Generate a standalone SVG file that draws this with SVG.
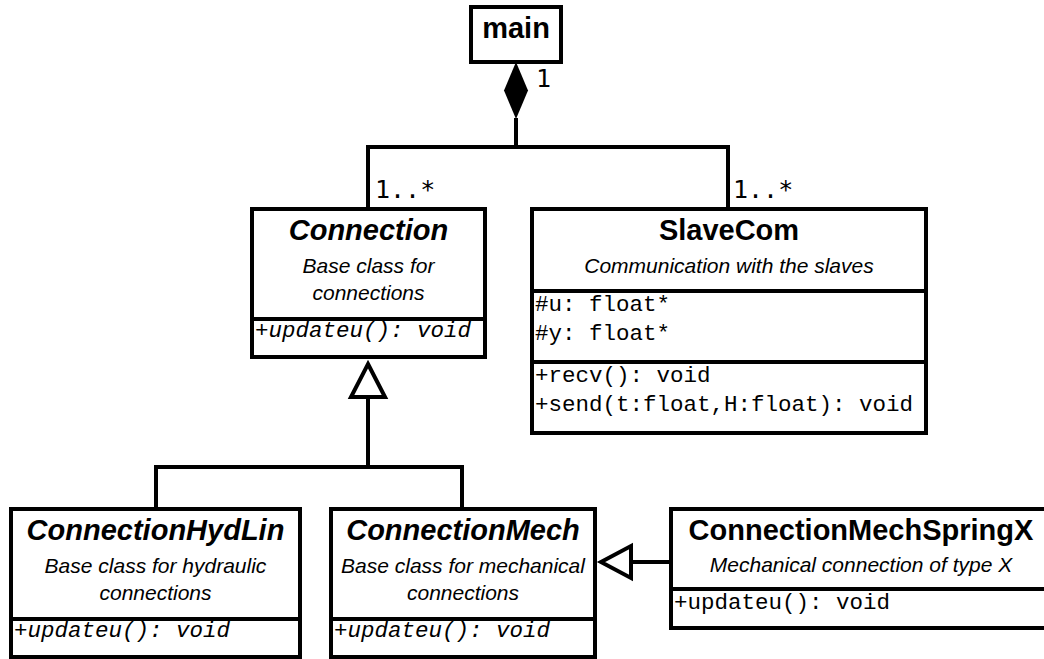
<svg xmlns="http://www.w3.org/2000/svg" width="1044" height="659" viewBox="0 0 1044 659">
  <style>
    .box { fill: #fff; stroke: #000; stroke-width: 4; }
    .sep { stroke: #000; stroke-width: 4; }
    .title { font-family: "Liberation Sans", Arial, sans-serif; font-weight: bold; font-size: 29px; text-anchor: middle; fill: #000; }
    .note { font-family: "Liberation Sans", Arial, sans-serif; font-style: italic; font-size: 21px; text-anchor: middle; fill: #000; }
    .member { font-family: "Liberation Mono", "Courier New", monospace; font-size: 22.5px; fill: #000; }
    .abstract { font-style: italic; }
    .mult { font-family: "DejaVu Sans Mono", monospace; font-size: 25px; fill: #000; }
    .edge { fill: none; stroke: #000; stroke-width: 4; stroke-linejoin: miter; }
    .hollow { fill: #fff; stroke: #000; stroke-width: 4; stroke-linejoin: miter; }
  </style>

  <!-- connectors -->
  <g id="connectors">
    <!-- composition: main owns Connection and SlaveCom -->
    <path class="edge" d="M516,118 V147"/>
    <path class="edge" d="M368,207 V147 H728 V207"/>
    <polygon points="516,62 528,90.5 516,119 504,90.5" fill="#000"/>
    <text class="mult" x="536" y="87">1</text>
    <text class="mult" x="375" y="198">1..*</text>
    <text class="mult" x="733" y="198">1..*</text>

    <!-- generalisation to Connection -->
    <path class="edge" d="M156,507 V467 H462 V507"/>
    <path class="edge" d="M368,397 V467"/>
    <polygon class="hollow" points="368,364 385,397 351,397"/>

    <!-- generalisation to ConnectionMech -->
    <path class="edge" d="M631,562 H671"/>
    <polygon class="hollow" points="601,562 631,546 631,578"/>
  </g>

  <!-- main -->
  <g id="main">
    <rect class="box" x="471" y="7" width="90" height="55"/>
    <text class="title" x="516" y="38">main</text>
  </g>

  <!-- Connection (abstract) -->
  <g id="connection">
    <rect class="box" x="252" y="209" width="233" height="148"/>
    <text class="title abstract" x="368.5" y="240">Connection</text>
    <text class="note" x="368.5" y="273">Base class for</text>
    <text class="note" x="368.5" y="300">connections</text>
    <line class="sep" x1="252" y1="319" x2="485" y2="319"/>
    <text class="member abstract" x="255" y="337">+updateu(): void</text>
  </g>

  <!-- SlaveCom -->
  <g id="slavecom">
    <rect class="box" x="532" y="209" width="394" height="224"/>
    <text class="title" x="729" y="240">SlaveCom</text>
    <text class="note" x="729" y="273">Communication with the slaves</text>
    <line class="sep" x1="532" y1="291" x2="926" y2="291"/>
    <text class="member" x="535" y="311">#u: float*</text>
    <text class="member" x="535" y="340">#y: float*</text>
    <line class="sep" x1="532" y1="362" x2="926" y2="362"/>
    <text class="member" x="535" y="382">+recv(): void</text>
    <text class="member" x="535" y="411">+send(t:float,H:float): void</text>
  </g>

  <!-- ConnectionHydLin (abstract) -->
  <g id="connection-hydlin">
    <rect class="box" x="11" y="509" width="289" height="148"/>
    <text class="title abstract" x="155.5" y="540">ConnectionHydLin</text>
    <text class="note" x="155.5" y="573">Base class for hydraulic</text>
    <text class="note" x="155.5" y="600">connections</text>
    <line class="sep" x1="11" y1="619" x2="300" y2="619"/>
    <text class="member abstract" x="14" y="637">+updateu(): void</text>
  </g>

  <!-- ConnectionMech (abstract) -->
  <g id="connection-mech">
    <rect class="box" x="331" y="509" width="264" height="148"/>
    <text class="title abstract" x="463" y="540">ConnectionMech</text>
    <text class="note" x="463" y="573">Base class for mechanical</text>
    <text class="note" x="463" y="600">connections</text>
    <line class="sep" x1="331" y1="619" x2="595" y2="619"/>
    <text class="member abstract" x="334" y="637">+updateu(): void</text>
  </g>

  <!-- ConnectionMechSpringX -->
  <g id="connection-mech-springx">
    <rect class="box" x="671" y="509" width="380" height="119"/>
    <text class="title" x="861" y="540">ConnectionMechSpringX</text>
    <text class="note" x="861" y="572">Mechanical connection of type X</text>
    <line class="sep" x1="671" y1="589" x2="1051" y2="589"/>
    <text class="member" x="674" y="609">+updateu(): void</text>
  </g>
</svg>
